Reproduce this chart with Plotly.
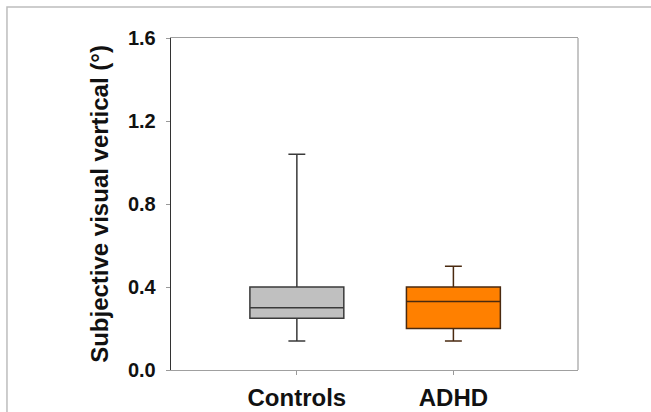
import plotly.graph_objects as go

categories = ["Controls", "ADHD"]
q1_vals = [0.25, 0.20]
median_vals = [0.30, 0.33]
q3_vals = [0.40, 0.40]
lower_vals = [0.14, 0.14]
upper_vals = [1.04, 0.50]
fill_colors = ["#c0c0c0", "#ff8000"]
outline_colors = ["#3a3a3a", "#4a2a10"]
y_ticks = [0.0, 0.4, 0.8, 1.2, 1.6]

FONT = "Arial, 'Liberation Sans', sans-serif"

fig = go.Figure()
for i, cat in enumerate(categories):
    fig.add_trace(go.Box(
        x=[cat],
        q1=[q1_vals[i]],
        median=[median_vals[i]],
        q3=[q3_vals[i]],
        lowerfence=[lower_vals[i]],
        upperfence=[upper_vals[i]],
        fillcolor=fill_colors[i],
        line=dict(color=outline_colors[i], width=1.5),
        width=0.6,
        whiskerwidth=0.18,
        boxpoints=False,
        showlegend=False,
        hoverinfo="skip",
    ))

fig.update_layout(
    width=651, height=412,
    autosize=False,
    margin=dict(l=171, r=73, t=38, b=42, pad=0),
    paper_bgcolor="white",
    plot_bgcolor="white",
    font=dict(family=FONT, color="#111111"),
    showlegend=False,
    shapes=[
        dict(type="rect", xref="paper", yref="paper",
             x0=-0.403, x1=1.4, y0=-0.3, y1=1.0934,
             line=dict(color="#bdbdbd", width=1.5),
             fillcolor="rgba(0,0,0,0)", layer="below"),
        dict(type="line", xref="paper", yref="paper",
             x0=1, x1=1, y0=0, y1=1,
             line=dict(color="#a0a0a0", width=1.2), layer="above"),
    ],
)

fig.update_xaxes(
    type="category",
    categoryorder="array", categoryarray=categories,
    range=[-0.804, 1.796],
    automargin=False,
    showline=True, linecolor="#a0a0a0", linewidth=1.2, mirror=True,
    ticks="outside", ticklen=4, tickcolor="#999999", tickwidth=1,
    tickfont=dict(family=FONT, size=24, weight="bold", color="#111111"),
    ticklabelstandoff=2,
    showgrid=False, zeroline=False,
)
fig.update_yaxes(
    range=[0, 1.6],
    automargin=False,
    tickvals=y_ticks,
    ticktext=[f"{v:.1f}" for v in y_ticks],
    showline=True, linecolor="#333333", linewidth=1.3, mirror=False,
    ticks="outside", ticklen=4, tickcolor="#999999", tickwidth=1,
    tickfont=dict(family=FONT, size=20, weight="bold", color="#111111"),
    ticklabelstandoff=6,
    title=dict(text="Subjective visual vertical (°)",
               font=dict(family=FONT, size=24, weight="bold", color="#111111"),
               standoff=12),
    showgrid=False, zeroline=False,
)

fig.write_html(
    "out.html",
    config={"displayModeBar": False, "staticPlot": True},
    post_script="document.body.style.margin='0px';document.body.style.overflow='hidden';",
)
